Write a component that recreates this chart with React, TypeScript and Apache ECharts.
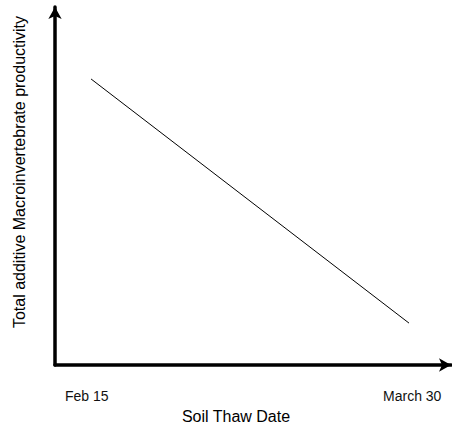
import React, { useEffect, useRef } from "react";
import * as echarts from "echarts";

const thawDates = ["Feb 15", "March 30"];
const thawDatePositions = [8, 90.2];
const lineX = [9.1, 89.4];
const productivity = [79.9, 11.7];
const xTitle = "Soil Thaw Date";
const yTitle = "Total additive Macroinvertebrate productivity";

export default function App() {
  const ref = useRef<HTMLDivElement>(null);
  useEffect(() => {
    if (!ref.current) return;
    const chart = echarts.init(ref.current, null, { renderer: "svg" });
    const font = "Liberation Sans, Arial, sans-serif";
    chart.setOption({
      animation: false,
      grid: { left: 55, right: 1, top: 7, bottom: 65 },
      xAxis: {
        type: "value",
        min: 0,
        max: 100,
        name: xTitle,
        nameLocation: "middle",
        nameGap: 43,
        nameTextStyle: { fontSize: 16, color: "#000", fontFamily: font, padding: [0, 34, 0, 0] },
        axisLine: { lineStyle: { color: "#000", width: 3.5 }, symbol: ["none", "arrow"], symbolSize: [10, 12] },
        axisTick: { show: false },
        splitLine: { show: false },
        axisLabel: {
          customValues: thawDatePositions,
          formatter: (v: number) => {
            const i = thawDatePositions.indexOf(v);
            return i >= 0 ? thawDates[i] : "";
          },
          fontSize: 14,
          color: "#111",
          fontFamily: font,
          margin: 24,
        },
      },
      yAxis: {
        type: "value",
        min: 0,
        max: 100,
        name: yTitle,
        nameLocation: "middle",
        nameGap: 28,
        nameTextStyle: { fontSize: 16, color: "#000", fontFamily: font, padding: [0, 0, 0, 28] },
        axisLine: { show: true, lineStyle: { color: "#000", width: 3.5 }, symbol: ["none", "arrow"], symbolSize: [10, 12] },
        axisTick: { show: false },
        axisLabel: { show: false },
        splitLine: { show: false },
      },
      series: [
        {
          type: "line",
          data: lineX.map((x, i) => [x, productivity[i]]),
          showSymbol: false,
          symbol: "none",
          lineStyle: { color: "#000", width: 1 },
        },
      ],
    });
    return () => chart.dispose();
  }, []);
  return <div ref={ref} style={{ position: "absolute", left: 0, top: 0, width: 452, height: 430 }} />;
}
